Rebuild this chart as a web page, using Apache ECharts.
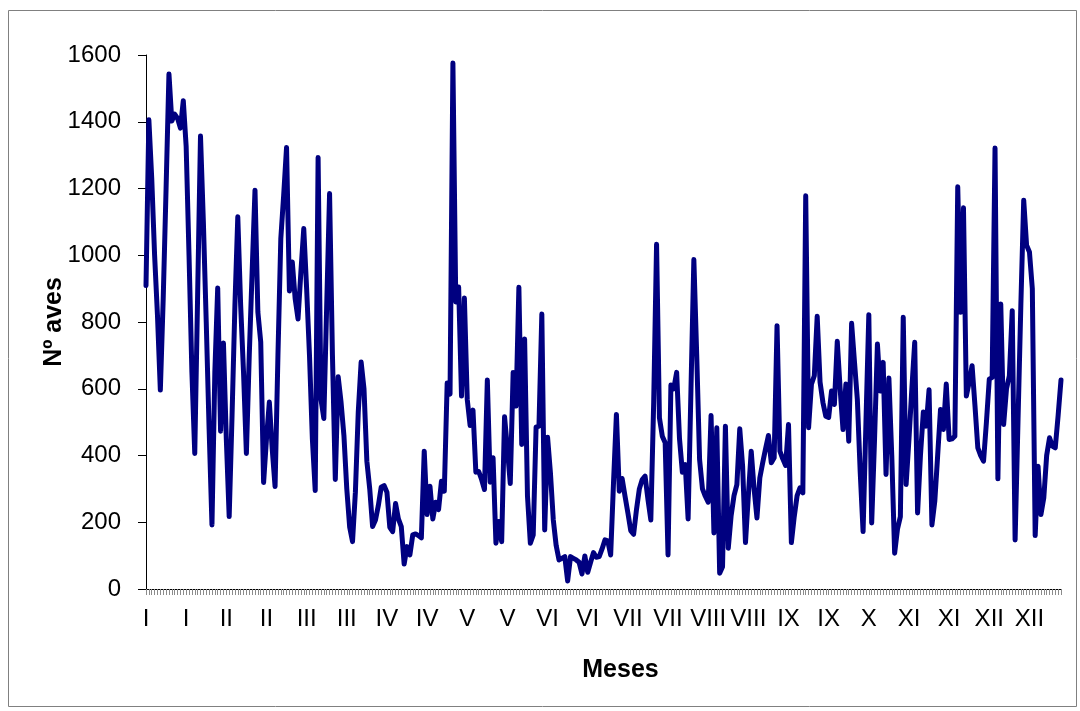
<!DOCTYPE html>
<html>
<head>
<meta charset="utf-8">
<script src="https://cdn.jsdelivr.net/npm/echarts@6/dist/echarts.min.js"></script>
<style>
html,body{margin:0;padding:0;background:#fff;}
#chart{width:1080px;height:711px;}
</style>
</head>
<body>
<div id="chart"></div>
<script>
// Tick labels shown every 14 points (months, two per month)
const tickLabels = ['I','I','II','II','III','III','IV','IV','V','V','VI','VI','VII','VII','VIII','VIII','IX','IX','X','XI','XI','XII','XII'];
const labelStep = 14;

// Nº aves (one value per sampling point)
const aves = [
909,1406,1230,1000,820,596,870,1200,1543,1402,
1423,1410,1381,1463,1326,1000,650,406,880,1357,
1100,800,480,192,650,902,473,737,450,217,
520,850,1115,850,650,406,700,950,1195,830,
740,319,450,560,420,307,700,1050,1180,1323,
893,980,870,809,950,1080,900,700,450,295,
1293,568,511,850,1185,700,328,636,560,460,
300,186,142,290,530,680,600,383,300,187,
207,250,305,310,290,185,172,256,210,187,
75,127,102,162,165,160,153,413,223,308,
210,260,238,323,293,617,584,1576,860,905,
578,872,568,490,536,350,352,328,298,626,
320,393,137,202,142,516,420,316,649,548,
904,433,749,278,137,162,485,488,824,177,
455,348,207,130,87,92,97,24,97,92,
87,80,45,99,50,80,109,95,97,120,
147,144,102,320,523,293,331,278,228,175,
164,238,300,328,338,268,207,560,1033,513,
458,438,102,611,600,649,450,350,373,210,
600,987,700,388,300,278,260,520,168,483,
47,67,488,122,220,280,313,480,368,139,
280,413,300,213,333,378,420,460,378,393,
789,413,390,370,493,139,217,280,303,288,
1178,483,614,639,817,620,559,518,514,593,
553,742,600,478,614,443,796,680,568,350,
172,500,822,198,450,734,593,679,343,632,
400,107,180,217,814,313,450,600,739,228,
400,530,488,597,192,263,400,538,478,614,
448,450,458,1205,829,1142,578,620,669,550,
423,400,383,500,629,634,1321,330,854,493,
600,639,834,147,500,850,1165,1030,1010,900,
160,368,223,273,400,453,428,423,520,626
];

const categories = aves.map((v, i) => String(i + 1));

const chart = echarts.init(document.getElementById('chart'));
const font = '"Liberation Sans", Arial, sans-serif';
chart.setOption({
  animation: false,
  backgroundColor: '#fff',
  grid: { left: 146, right: 19, top: 55, bottom: 122, containLabel: false },
  graphic: [{
    type: 'rect',
    shape: { x: 8.5, y: 10.5, width: 1068, height: 696 },
    style: { fill: 'none', stroke: '#808080', lineWidth: 1 },
    silent: true
  }],
  xAxis: {
    type: 'category',
    data: categories,
    boundaryGap: false,
    name: 'Meses',
    nameLocation: 'middle',
    nameGap: 69,
    nameMoveOverlap: false,
    nameTextStyle: { fontFamily: font, fontSize: 25, fontWeight: 'bold', color: '#000', padding: [0, 0, 0, 34] },
    axisLine: { lineStyle: { color: '#000', width: 1 } },
    axisTick: { show: true, interval: 0, length: 6, lineStyle: { color: '#8c8c8c', width: 1 } },
    axisLabel: {
      interval: labelStep - 1,
      margin: 18,
      fontFamily: font, fontSize: 24, color: '#000',
      formatter: (v, idx) => (idx % labelStep === 0 ? (tickLabels[idx / labelStep] || '') : '')
    },
    splitLine: { show: false }
  },
  yAxis: {
    type: 'value',
    min: 0, max: 1600, interval: 200,
    name: 'Nº aves',
    nameLocation: 'middle',
    nameGap: 79,
    nameMoveOverlap: false,
    nameTextStyle: { fontFamily: font, fontSize: 25, fontWeight: 'bold', color: '#000' },
    axisLine: { show: true, lineStyle: { color: '#000', width: 1 } },
    axisTick: { show: true, length: 8, lineStyle: { color: '#000' } },
    axisLabel: { margin: 25, fontFamily: font, fontSize: 24, color: '#000', formatter: (v) => String(v) },
    splitLine: { show: false }
  },
  series: [{
    type: 'line',
    data: aves,
    showSymbol: false,
    symbol: 'none',
    lineStyle: { color: '#000080', width: 5, join: 'round', cap: 'round' },
    itemStyle: { color: '#000080' }
  }]
});
</script>
</body>
</html>
